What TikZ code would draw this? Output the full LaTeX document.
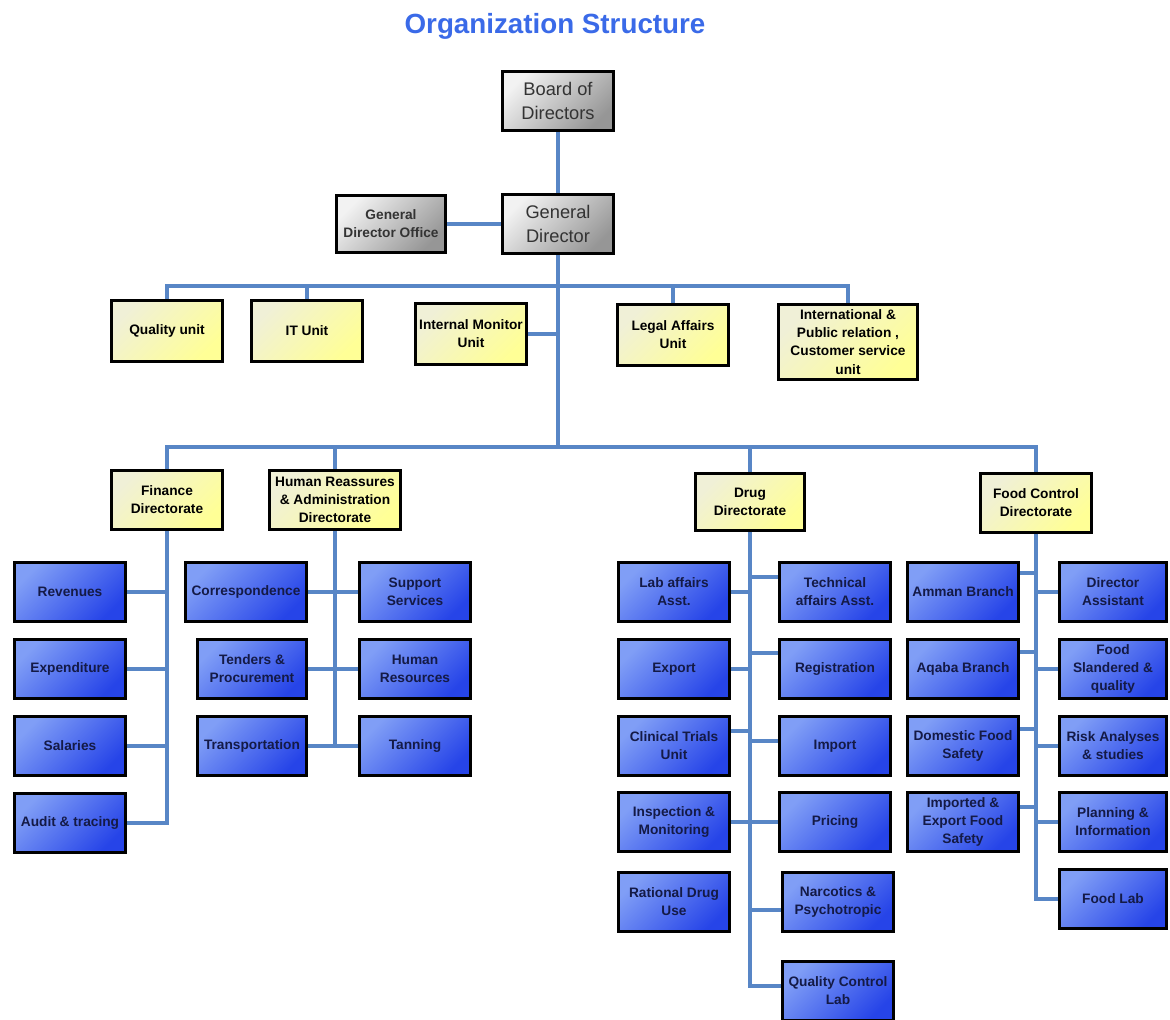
\documentclass[tikz,border=0pt]{standalone}
\usepackage{fontspec}
\setmainfont{Liberation Sans}
\usetikzlibrary{calc}

\definecolor{linkblue}{RGB}{88,134,198}
\definecolor{titleblue}{RGB}{58,106,232}
\definecolor{subtext}{RGB}{20,26,70}
\definecolor{subtop}{RGB}{128,158,246}
\definecolor{submid}{RGB}{62,98,242}
\definecolor{subbot}{RGB}{38,68,232}
\definecolor{unittop}{RGB}{240,240,215}
\definecolor{unitbot}{RGB}{255,255,150}
\definecolor{graytop}{RGB}{242,242,242}
\definecolor{graybot}{RGB}{150,150,150}

\tikzset{
  box/.style={draw=black, line width=1.9pt, align=center, inner sep=1pt,
    minimum width=2.22cm, minimum height=1.19cm},
  topbox/.style={box, top color=graytop, bottom color=graybot, shading angle=45,
    text=black!80, font=\fontsize{10.4}{13.6}\selectfont},
  unitbox/.style={box, top color=unittop, bottom color=unitbot, shading angle=45,
    font=\fontsize{7.8}{10.3}\selectfont\bfseries},
  subbox/.style={box, top color=subtop, middle color=submid, bottom color=subbot,
    shading angle=45, text=subtext, font=\fontsize{7.8}{10.3}\selectfont\bfseries},
  link/.style={draw=linkblue, line width=1.9pt}
}

\begin{document}
\begin{tikzpicture}[x=0.02cm, y=-0.02cm]
    \useasboundingbox (0,0) rectangle (1170,1019);
    \node[anchor=base, text=titleblue, font=\fontsize{15.8}{18}\selectfont\bfseries] (title) at (555,33) {Organization Structure};

    % Board and general director
    \node[topbox] (board) at (558,101) {Board of\\Directors};
    \node[topbox] (gd) at (558,224) {General\\Director};
    \node[topbox, font=\fontsize{7.8}{10.3}\selectfont\bfseries, minimum width=2.19cm, minimum height=1.13cm] (gdo) at (391,224) {General\\Director Office};
    \draw[link] (board) -- (gd);
    \draw[link] (gdo) -- (gd);

    % Units
    \node[unitbox, minimum width=2.23cm, minimum height=1.21cm] (qual) at (167,331) {Quality unit};
    \node[unitbox, minimum width=2.23cm, minimum height=1.21cm] (itu) at (307,331) {IT Unit};
    \node[unitbox, minimum height=1.21cm] (imu) at (471,334) {Internal Monitor\\Unit};
    \node[unitbox, minimum height=1.21cm] (legal) at (673,335) {Legal Affairs\\Unit};
    \node[unitbox, minimum width=2.77cm, minimum height=1.51cm] (intl) at (848,342) {International \&\\Public relation ,\\Customer service\\unit};
    \coordinate (ubus) at (558,286);
    \coordinate (dbus) at (558,447);
    \draw[link] (gd) -- (dbus);
    \draw[link] (qual) |- (ubus) -| (intl);
    \draw[link] (itu) -- (itu |- ubus);
    \draw[link] (legal) -- (legal |- ubus);
    \draw[link] (imu) -- (imu -| gd);

    % Directorates
    \node[unitbox] (fin) at (167,500) {Finance\\Directorate};
    \node[unitbox, minimum width=2.63cm] (hr) at (335,500) {Human Reassures\\\& Administration\\Directorate};
    \node[unitbox, minimum width=2.17cm, minimum height=1.15cm] (drug) at (750,502) {Drug\\Directorate};
    \node[unitbox, minimum height=1.17cm] (food) at (1036,503) {Food Control\\Directorate};
    \draw[link] (fin) |- (dbus) -| (food);
    \draw[link] (hr) -- (hr |- dbus);
    \draw[link] (drug) -- (drug |- dbus);

    % Finance
    \node[subbox] (rev) at (70,592) {Revenues};
    \node[subbox] (expd) at (70,669) {Expenditure};
    \node[subbox] (sal) at (70,746) {Salaries};
    \node[subbox] (audit) at (70,823) {Audit \& tracing};
    \draw[link] (fin) |- (audit);
    \draw[link] (rev) -- (rev -| fin);
    \draw[link] (expd) -- (expd -| fin);
    \draw[link] (sal) -- (sal -| fin);

    % Human resources and administration
    \node[subbox, minimum width=2.41cm] (corr) at (246,592) {Correspondence};
    \node[subbox, minimum width=2.19cm] (tend) at (252,669) {Tenders \&\\Procurement};
    \node[subbox, minimum width=2.19cm] (trans) at (252,746) {Transportation};
    \node[subbox] (supp) at (415,592) {Support\\Services};
    \node[subbox] (hres) at (415,669) {Human\\Resources};
    \node[subbox] (tann) at (415,746) {Tanning};
    \draw[link] (hr) -- (hr |- trans);
    \draw[link] (corr) -- (supp);
    \draw[link] (tend) -- (hres);
    \draw[link] (trans) -- (tann);

    % Drug
    \node[subbox] (lab) at (674,592) {Lab affairs\\Asst.};
    \node[subbox] (expo) at (674,669) {Export};
    \node[subbox] (clin) at (674,746) {Clinical Trials\\Unit};
    \node[subbox] (insp) at (674,822) {Inspection \&\\Monitoring};
    \node[subbox] (rat) at (674,902) {Rational Drug\\Use};
    \node[subbox] (tech) at (835,592) {Technical\\affairs Asst.};
    \node[subbox] (reg) at (835,669) {Registration};
    \node[subbox] (imp) at (835,746) {Import};
    \node[subbox] (pric) at (835,822) {Pricing};
    \node[subbox] (narc) at (838,902) {Narcotics \&\\Psychotropic};
    \node[subbox] (qcl) at (838,991) {Quality Control\\Lab};
    \draw[link] (drug) |- ($(qcl.west)+(0,-5)$);
    \draw[link] (lab) -- (lab -| drug);
    \draw[link] (expo) -- (expo -| drug);
    \draw[link] ($(clin.east)+(0,-15)$) -- ($(clin.east -| drug)+(0,-15)$);
    \draw[link] (insp) -- (pric);
    \draw[link] ($(tech.west)+(0,-15)$) -- ($(tech.west -| drug)+(0,-15)$);
    \draw[link] ($(reg.west)+(0,-16)$) -- ($(reg.west -| drug)+(0,-16)$);
    \draw[link] ($(imp.west)+(0,-5)$) -- ($(imp.west -| drug)+(0,-5)$);
    \draw[link] ($(narc.west)+(0,8)$) -- ($(narc.west -| drug)+(0,8)$);

    % Food control
    \node[subbox] (amm) at (963,592) {Amman Branch};
    \node[subbox] (aqb) at (963,669) {Aqaba Branch};
    \node[subbox] (dom) at (963,746) {Domestic Food\\Safety};
    \node[subbox] (impf) at (963,822) {Imported \&\\Export Food\\Safety};
    \node[subbox, minimum width=2.15cm] (dira) at (1113,592) {Director\\Assistant};
    \node[subbox, minimum width=2.15cm] (fsq) at (1113,669) {Food\\Slandered \&\\quality};
    \node[subbox, minimum width=2.15cm] (risk) at (1113,746) {Risk Analyses\\\& studies};
    \node[subbox, minimum width=2.15cm] (plan) at (1113,822) {Planning \&\\Information};
    \node[subbox, minimum width=2.15cm] (flab) at (1113,899) {Food Lab};
    \draw[link] (food) |- (flab);
    \draw[link] (dira) -- (dira -| food);
    \draw[link] (fsq) -- (fsq -| food);
    \draw[link] (risk) -- (risk -| food);
    \draw[link] (plan) -- (plan -| food);
    \draw[link] ($(amm.east)+(0,-19)$) -- ($(amm.east -| food)+(0,-19)$);
    \draw[link] ($(aqb.east)+(0,-17)$) -- ($(aqb.east -| food)+(0,-17)$);
    \draw[link] ($(dom.east)+(0,-17)$) -- ($(dom.east -| food)+(0,-17)$);
    \draw[link] ($(impf.east)+(0,-15)$) -- ($(impf.east -| food)+(0,-15)$);
\end{tikzpicture}
\end{document}
